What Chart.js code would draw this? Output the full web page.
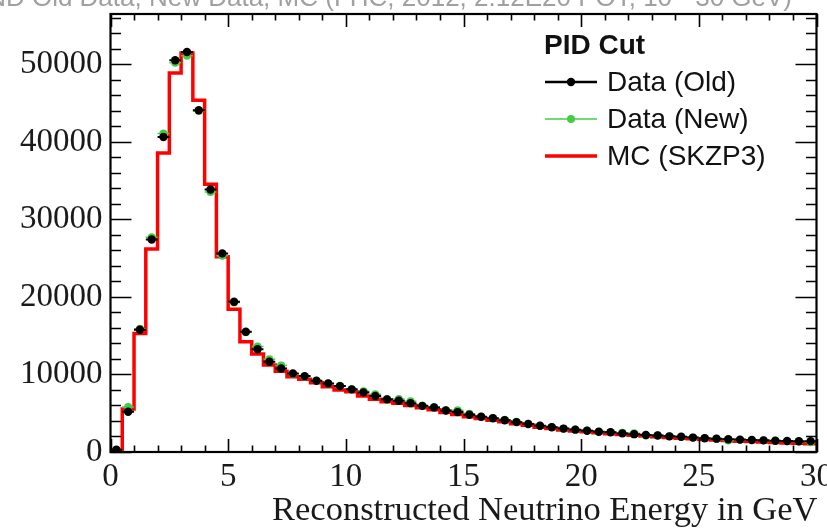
<!DOCTYPE html>
<html>
<head>
<meta charset="utf-8">
<script src="https://cdn.jsdelivr.net/npm/chart.js@4.4.1/dist/chart.umd.min.js"></script>
<style>
  html, body { margin: 0; padding: 0; background: #ffffff; }
  #wrap { width: 827px; height: 528px; position: relative; }
</style>
</head>
<body>
<div id="wrap"><canvas id="c" width="827" height="528"></canvas></div>
<script>
// Histogram binning: 60 bins of 0.5 GeV from 0 to 30 GeV
const binLow = 0;
const binWidth = 0.5;

// Events per bin, reconstructed neutrino energy
const dataOld = [
  300, 5200, 15770, 27420, 40640, 50530, 51600, 44090, 33870, 25620,
  19380, 15520, 13250, 11640, 10780, 10140, 9790, 9190, 8850, 8500,
  8080, 7690, 7220, 6790, 6610, 6300, 5950, 5750, 5350, 5150,
  4800, 4550, 4350, 4100, 3850, 3620, 3380, 3200, 3020, 2880,
  2750, 2620, 2540, 2400, 2300, 2200, 2120, 2020, 1960, 1860,
  1780, 1720, 1640, 1600, 1540, 1500, 1450, 1420, 1380, 1400
];
const dataNew = [
  250, 5800, 15900, 27700, 41100, 50200, 51100, 44000, 33550, 25300,
  19300, 15450, 13600, 11950, 11150, 10100, 9750, 9200, 8850, 8550,
  8100, 7850, 7450, 6850, 6850, 6550, 5950, 5800, 5400, 5400,
  4950, 4550, 4400, 4150, 3900, 3650, 3400, 3230, 3000, 2900,
  2760, 2600, 2560, 2480, 2420, 2120, 2150, 2030, 1940, 1880,
  1800, 1700, 1480, 1580, 1560, 1520, 1460, 1400, 1370, 1250
];
const mcSKZP3 = [
  200, 5540, 15300, 26170, 38580, 48890, 51470, 45370, 34550, 25180,
  18400, 14230, 12640, 11220, 10420, 9710, 9370, 8930, 8420, 8000,
  7770, 7230, 6800, 6490, 6280, 6000, 5700, 5450, 5100, 4850,
  4550, 4330, 4100, 3900, 3650, 3450, 3200, 3020, 2850, 2720,
  2600, 2480, 2370, 2260, 2160, 2060, 1960, 1870, 1780, 1700,
  1620, 1540, 1470, 1400, 1340, 1280, 1220, 1170, 1120, 1070
];

// axis tick labels
const xTickValues = [0, 5, 10, 15, 20, 25, 30];
const yTickValues = [0, 10000, 20000, 30000, 40000, 50000];

const legendHeader = 'PID Cut';
const seriesLabels = ['Data (Old)', 'Data (New)', 'MC (SKZP3)'];
const xTitle = 'Reconstructed Neutrino Energy in GeV';
const topTitle = 'ND Old Data, New Data, MC (FHC, 2012, 2.12E20 POT, 10 - 30 GeV)';

const xMin = 0, xMax = 30, yMin = 0, yMax = 56500;

// points at bin centres for the data series
function centred(values) {
  return values.map((v, i) => ({ x: binLow + (i + 0.5) * binWidth, y: v }));
}
// outline of a histogram: each bin drawn flat between its edges
function histOutline(values) {
  const pts = [{ x: binLow, y: 0 }];
  values.forEach((v, i) => {
    pts.push({ x: binLow + i * binWidth, y: v });
    pts.push({ x: binLow + (i + 1) * binWidth, y: v });
  });
  return pts;
}

const serif = '"Liberation Serif", "DejaVu Serif", serif';
const sans = '"Liberation Sans", Arial, sans-serif';

// horizontal bars spanning each bin, drawn under the markers
const binBars = {
  id: 'binBars',
  beforeDatasetDraw(chart, args) {
    const ds = chart.data.datasets[args.index];
    if (!ds.binBar) return;
    const { ctx, chartArea: a } = chart;
    const xs = chart.scales.x, ys = chart.scales.y;
    ctx.save();
    ctx.beginPath();
    ctx.rect(a.left, a.top, a.right - a.left, a.bottom - a.top);
    ctx.clip();
    ctx.strokeStyle = ds.backgroundColor;
    ctx.lineWidth = ds.binBar;
    ds.data.forEach(p => {
      const y = ys.getPixelForValue(p.y);
      ctx.beginPath();
      ctx.moveTo(xs.getPixelForValue(p.x - binWidth / 2), y);
      ctx.lineTo(xs.getPixelForValue(p.x + binWidth / 2), y);
      ctx.stroke();
    });
    ctx.restore();
  }
};

// frame with inward tick marks on all four sides
const frameTicks = {
  id: 'frameTicks',
  afterDatasetsDraw(chart) {
    const { ctx, chartArea: a } = chart;
    const xs = chart.scales.x, ys = chart.scales.y;
    ctx.save();
    ctx.strokeStyle = '#000';
    ctx.lineWidth = 1.6;
    ctx.beginPath();
    for (let v = xMin; v <= xMax; v += 1) {
      const len = v % 5 === 0 ? 13 : 6.5;
      const x = Math.round(xs.getPixelForValue(v)) + 0.5;
      ctx.moveTo(x, a.bottom); ctx.lineTo(x, a.bottom - len);
      ctx.moveTo(x, a.top); ctx.lineTo(x, a.top + len);
    }
    for (let v = yMin; v <= yMax; v += 2000) {
      const len = v % 10000 === 0 ? 21 : 10.5;
      const y = Math.round(ys.getPixelForValue(v)) + 0.5;
      ctx.moveTo(a.left, y); ctx.lineTo(a.left + len, y);
      ctx.moveTo(a.right, y); ctx.lineTo(a.right - len, y);
    }
    ctx.stroke();
    ctx.lineWidth = 2.2;
    ctx.strokeRect(a.left, a.top, a.right - a.left, a.bottom - a.top);
    ctx.restore();
  }
};

// legend block, axis title and the clipped heading at the top
const annotations = {
  id: 'annotations',
  afterDraw(chart) {
    const { ctx, chartArea: a } = chart;
    ctx.save();
    // heading (runs off the top edge)
    ctx.font = '26px ' + sans;
    ctx.fillStyle = '#a0a0a0';
    ctx.textBaseline = 'alphabetic';
    ctx.textAlign = 'right';
    ctx.fillText(topTitle, 792, 6);

    // x axis title, right-aligned to the frame
    ctx.font = '34.5px ' + serif;
    ctx.fillStyle = '#1a1a1a';
    ctx.textAlign = 'right';
    ctx.fillText(xTitle, a.right + 1, 520);

    // legend
    const lx = 544, lineEnd = 597, tx = 607;
    ctx.textAlign = 'left';
    ctx.textBaseline = 'middle';
    ctx.font = 'bold 28px ' + sans;
    ctx.fillStyle = '#111';
    ctx.fillText(legendHeader, lx, 46);
    const rows = [82, 119, 156];
    chart.data.datasets.forEach((ds, i) => {
      const y = rows[i];
      ctx.strokeStyle = ds.borderColor;
      ctx.lineWidth = ds.legendWidth;
      ctx.beginPath();
      ctx.moveTo(lx + 1, y); ctx.lineTo(lineEnd, y);
      ctx.stroke();
      if (ds.pointRadius > 0) {
        ctx.fillStyle = ds.backgroundColor;
        ctx.beginPath();
        ctx.arc((lx + lineEnd) / 2 + 0.5, y, ds.pointRadius, 0, Math.PI * 2);
        ctx.fill();
      }
      ctx.font = '28px ' + sans;
      ctx.fillStyle = '#111';
      ctx.fillText(ds.label, tx, y + 1);
    });
    ctx.restore();
  }
};

new Chart(document.getElementById('c'), {
  type: 'scatter',
  data: {
    datasets: [
      {
        label: seriesLabels[0],
        data: centred(dataOld),
        backgroundColor: '#000000',
        borderColor: '#000000',
        pointRadius: 4.2,
        pointBorderWidth: 0,
        binBar: 2,
        legendWidth: 2.5,
        order: 0
      },
      {
        label: seriesLabels[1],
        data: centred(dataNew),
        backgroundColor: '#44cc44',
        borderColor: '#44cc44',
        pointRadius: 4,
        pointBorderWidth: 0,
        binBar: 1.5,
        legendWidth: 1.6,
        order: 1
      },
      {
        type: 'line',
        label: seriesLabels[2],
        data: histOutline(mcSKZP3),
        borderColor: '#ff0000',
        backgroundColor: '#ff0000',
        borderWidth: 3.5,
        pointRadius: 0,
        fill: false,
        tension: 0,
        legendWidth: 3.5,
        order: 2
      }
    ]
  },
  options: {
    responsive: false,
    animation: false,
    devicePixelRatio: 1,
    layout: { padding: { top: 14, right: 10.5, left: 0, bottom: 0 } },
    plugins: {
      legend: { display: false },
      tooltip: { enabled: false },
      title: { display: false }
    },
    scales: {
      x: {
        type: 'linear',
        min: xMin,
        max: xMax,
        grid: { display: false, drawTicks: false },
        border: { display: false },
        afterBuildTicks(s) { s.ticks = xTickValues.map(v => ({ value: v })); },
        ticks: {
          autoSkip: false,
          maxRotation: 0,
          padding: 6,
          color: '#1a1a1a',
          font: { family: serif, size: 33 },
          callback: v => String(v)
        },
        afterFit(s) {
          s.height = 76;
          s.paddingLeft = 0; s.paddingRight = 0;
          s.paddingTop = 0; s.paddingBottom = 0;
        }
      },
      y: {
        type: 'linear',
        min: yMin,
        max: yMax,
        grid: { display: false, drawTicks: false },
        border: { display: false },
        afterBuildTicks(s) { s.ticks = yTickValues.map(v => ({ value: v })); },
        ticks: {
          autoSkip: false,
          padding: 8,
          color: '#1a1a1a',
          font: { family: serif, size: 33 },
          callback: v => String(v)
        },
        afterFit(s) {
          s.width = 110.5;
          s.paddingLeft = 0; s.paddingRight = 0;
          s.paddingTop = 0; s.paddingBottom = 0;
        }
      }
    }
  },
  plugins: [binBars, frameTicks, annotations]
});
</script>
</body>
</html>
